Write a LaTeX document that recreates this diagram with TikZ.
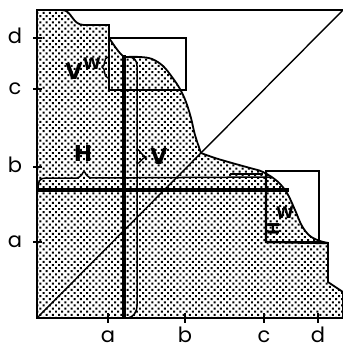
\documentclass[tikz,border=0pt]{standalone}
\usepackage{fontspec}
\setmainfont{Poppins}
\newfontfamily\letterfont{DejaVu Sans}
\usetikzlibrary{patterns.meta}
\begin{document}
\begin{tikzpicture}[x=1pt,y=-1pt,
  edge/.style={line width=1.8pt},
  boxline/.style={line width=1.4pt},
  stripline/.style={line width=1.5pt},
  heavy/.style={line width=3.4pt},
  dotted fill/.style={pattern={Dots[angle=45,distance=4.4pt,radius=1.4pt]}},
  ticklab/.style={font=\fontsize{21}{21}\selectfont, inner sep=0pt},
  letter/.style={font=\letterfont\fontsize{22}{22}\selectfont\bfseries, inner sep=0pt},
  smallletter/.style={font=\letterfont\fontsize{16}{16}\selectfont\bfseries, inner sep=0pt}]
\useasboundingbox (0,0) rectangle (343,349);
\coordinate (O) at (37,318);
\coordinate (TL) at (37,10);
\coordinate (TR) at (343,10);
% shaded region
\draw[edge, dotted fill] (TL) -- (62,10) .. controls (72,10) and (72,25) .. (84,25) -- (109,25) -- (109,38)
  .. controls (114,45) and (118,52) .. (124,57)
  -- plot[smooth, tension=0.6] coordinates {(124,57) (140,57) (152,59) (163,66) (172,77) (180,89) (186,102) (191,118) (195,135) (201,153)}
  -- plot[smooth, tension=0.6] coordinates {(201,153) (215,158) (232,163) (250,168) (263,172) (277,181) (287,193) (295,210) (302,226) (310,236) (320,241) (328,243)}
  -- (328,282) -- (343,292) -- (343,318) -- (O) -- cycle;
% frame lines
\draw[edge] (TL) -- (TR);
\draw[boxline] (O) -- (TR);
\draw[line width=2.2pt] (TL) -- (O);
% boxes
\draw[boxline] (109,38) rectangle (186,90);
\draw[boxline] (266,171) rectangle (319,242);
\draw[line width=2.4pt] (266,172) -- (266,242) -- (328,243);
% vertical strip
\draw[heavy] (124,55) -- (124,318);
\draw[stripline] (128,57) .. controls (134,57) and (137,60) .. (137,66) -- (137,305) .. controls (137,313) and (133,317) .. (128,318);
% horizontal strip
\draw[heavy] (37,190) -- (289,190);
\draw[stripline] (38,188) .. controls (38,181) and (40,178) .. (46,178) -- (78,178) .. controls (81,177) and (82,174) .. (84,171) .. controls (86,174) and (87,177) .. (90,178) -- (272,177);
\draw[line width=2.2pt] (230,174) -- (263,174);
% braces
\draw[line width=1.4pt] (108,57) .. controls (103,58) and (106,66) .. (102,67) .. controls (106,68) and (103,77) .. (108,78);
\draw[line width=1.4pt] (137,149) .. controls (140,150) and (142,156) .. (146,157) .. controls (142,158) and (140,163) .. (137,164);
% y ticks
\draw[boxline] (33,38) -- (42,38);
\draw[boxline] (33,89) -- (42,89);
\draw[boxline] (33,167) -- (42,167);
\draw[boxline] (33,242) -- (42,242);
% x ticks
\draw[boxline] (108,313) -- (108,323);
\draw[boxline] (185,313) -- (185,323);
\draw[boxline] (264,313) -- (264,323);
\draw[boxline] (318,313) -- (318,323);
% tick labels
\node[ticklab] (yd) at (15,36) {d};
\node[ticklab] (yc) at (15,89) {c};
\node[ticklab] (yb) at (15,165) {b};
\node[ticklab] (ya) at (15,242) {a};
\node[ticklab] (xa) at (108,337) {a};
\node[ticklab] (xb) at (185,335) {b};
\node[ticklab] (xc) at (264,337) {c};
\node[ticklab] (xd) at (318,335) {d};
% letters
\node[letter] (lv1) at (74,71) {V};
\node[smallletter] (lw1) at (92,64) {W};
\node[letter] (lh1) at (83,153) {H};
\node[letter] (lv2) at (159,156) {V};
\node[smallletter] (lw2) at (285,213) {W};
\node[smallletter, rotate=90] (lh2) at (274,229) {H};
\end{tikzpicture}
\end{document}
